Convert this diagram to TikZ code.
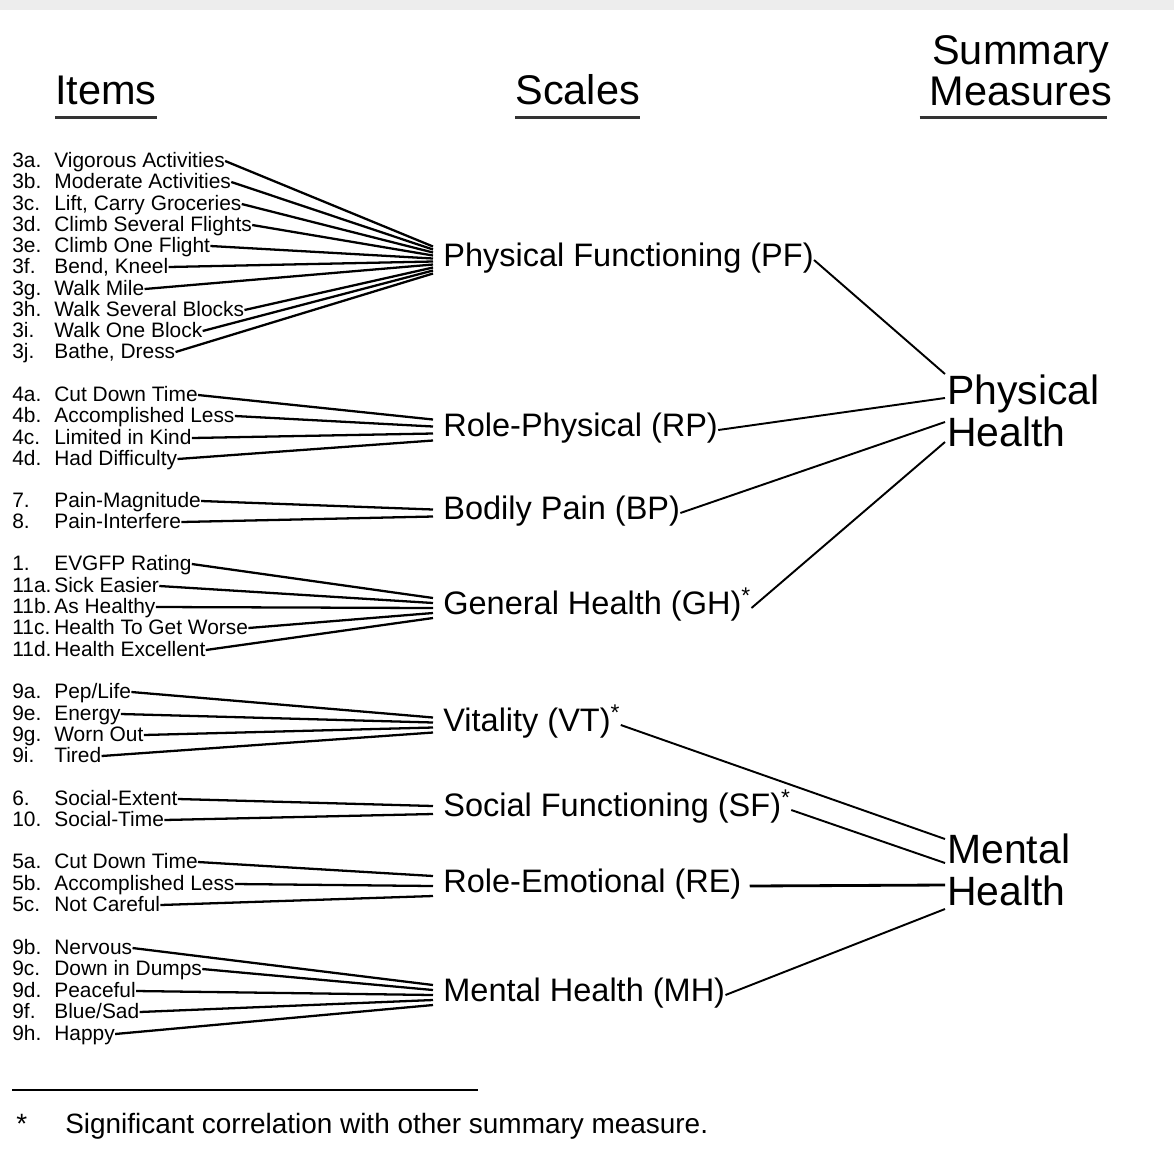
\documentclass[tikz,border=0pt]{standalone}
\usepackage{fontspec}
\setmainfont{Liberation Sans}
\usetikzlibrary{calc}

\tikzset{
  itemtext/.style={anchor=west, inner sep=0pt, text height=0.72em, text depth=0pt, font=\fontsize{11.9pt}{12pt}\selectfont},
  scalename/.style={anchor=west, inner sep=0pt, text height=0.72em, text depth=0pt, font=\fontsize{18.5pt}{20pt}\selectfont},
  summary/.style={anchor=west, inner sep=0pt, align=left, font=\fontsize{23.3pt}{23.9pt}\selectfont},
  heading/.style={inner sep=0pt, font=\fontsize{23.6pt}{23.3pt}\selectfont},
  headrule/.style={line width=1.7pt, black!80},
  itemline/.style={line width=1.3pt},
  sumline/.style={line width=1.1pt}
}

% Items of one scale: #1 scale node, #2 number of items, #3 spread at the scale, #4 items
\newcommand\itemgroup[4]{%
  \foreach \inum/\itxt/\iy [count=\k] in {#4} {
    \node[itemtext] (#1n\k) at (12,\iy) {\inum};
    \node[itemtext] (#1\k) at (54,\iy) {\itxt};
    \draw[itemline] (#1\k.east) -- ($(#1.west)+(-10,{(\k-(#2+1)/2)*#3})$);
  }%
}

\begin{document}
\begin{tikzpicture}[x=0.02cm, y=-0.02cm]
\useasboundingbox (0,0) rectangle (1174,1171);
\fill[black!7] (0,0) rectangle (1174,10);

% Headings
\node[heading, anchor=base west] (items) at (55,104) {Items};
\node[heading, anchor=base west] (scales) at (515,104) {Scales};
\node[heading, anchor=south, align=center] (summ) at (1021,106) {Summary\\Measures};
\draw[headrule] ($(items.base west)+(0,13)$) -- ($(items.base east)+(0,13)$);
\draw[headrule] ($(scales.base west)+(0,13)$) -- ($(scales.base east)+(0,13)$);
\draw[headrule] ($(summ.south west)+(-10,11)$) -- ($(summ.south east)+(-5,11)$);

% Scales
\node[scalename] (pf) at (443,260) {Physical Functioning (PF)};
\node[scalename] (rp) at (443,430) {Role-Physical (RP)};
\node[scalename] (bp) at (443,513) {Bodily Pain (BP)};
\node[scalename] (gh) at (443,608) {General Health (GH)\textsuperscript{*}};
\node[scalename] (vt) at (443,725) {Vitality (VT)\textsuperscript{*}};
\node[scalename] (sf) at (443,810) {Social Functioning (SF)\textsuperscript{*}};
\node[scalename] (re) at (443,886) {Role-Emotional (RE)};
\node[scalename] (mh) at (443,995) {Mental Health (MH)};

% Summary measures
\node[summary] (ph) at (947,411) {Physical\\Health};
\node[summary] (mt) at (947,870) {Mental\\Health};

% Items
\itemgroup{pf}{10}{3}{3a./Vigorous Activities/161, 3b./Moderate Activities/182,
  3c./{Lift, Carry Groceries}/204, 3d./Climb Several Flights/225,
  3e./Climb One Flight/246, 3f./{Bend, Kneel}/267, 3g./Walk Mile/289,
  3h./Walk Several Blocks/310, 3i./Walk One Block/331, 3j./{Bathe, Dress}/352}
\itemgroup{rp}{4}{7}{4a./Cut Down Time/395, 4b./Accomplished Less/416,
  4c./Limited in Kind/438, 4d./Had Difficulty/459}
\itemgroup{bp}{2}{7}{7./Pain-Magnitude/501, 8./Pain-Interfere/522}
\itemgroup{gh}{5}{5}{1./EVGFP Rating/564, 11a./Sick Easier/586, 11b./As Healthy/607,
  11c./Health To Get Worse/628, 11d./Health Excellent/650}
\itemgroup{vt}{4}{5}{9a./{Pep/Life}/692, 9e./Energy/714, 9g./Worn Out/735, 9i./Tired/756}
\itemgroup{sf}{2}{8}{6./Social-Extent/799, 10./Social-Time/820}
\itemgroup{re}{3}{10}{5a./Cut Down Time/862, 5b./Accomplished Less/884, 5c./Not Careful/905}
\itemgroup{mh}{5}{5}{9b./Nervous/948, 9c./Down in Dumps/969, 9d./Peaceful/991,
  9f./{Blue/Sad}/1012, 9h./Happy/1034}

% Scales to summary measures
\draw[sumline] (pf.east) -- ($(ph.west)+(-2,-37)$);
\draw[sumline] (rp.east) -- ($(ph.west)+(-2,-13)$);
\draw[sumline] (bp.east) -- ($(ph.west)+(-2,11)$);
\draw[sumline] (gh.east) -- ($(ph.west)+(-2,31)$);
\draw[sumline] (vt.east) -- ($(mt.west)+(-2,-31)$);
\draw[sumline] (sf.east) -- ($(mt.west)+(-2,-7)$);
\draw[sumline, line width=1.6pt] ($(re.east)+(8,0)$) -- ($(mt.west)+(-2,15)$);
\draw[sumline] (mh.east) -- ($(mt.west)+(-2,39)$);

% Footnote
\draw[line width=1.1pt] (12,1090) -- (478,1090);
\node[anchor=base west, inner sep=0pt, font=\fontsize{15.9pt}{16pt}\selectfont] (star) at (16,1133) {*};
\node[anchor=base west, inner sep=0pt, font=\fontsize{15.9pt}{16pt}\selectfont] (note) at (65,1133) {Significant correlation with other summary measure.};

\end{tikzpicture}
\end{document}
